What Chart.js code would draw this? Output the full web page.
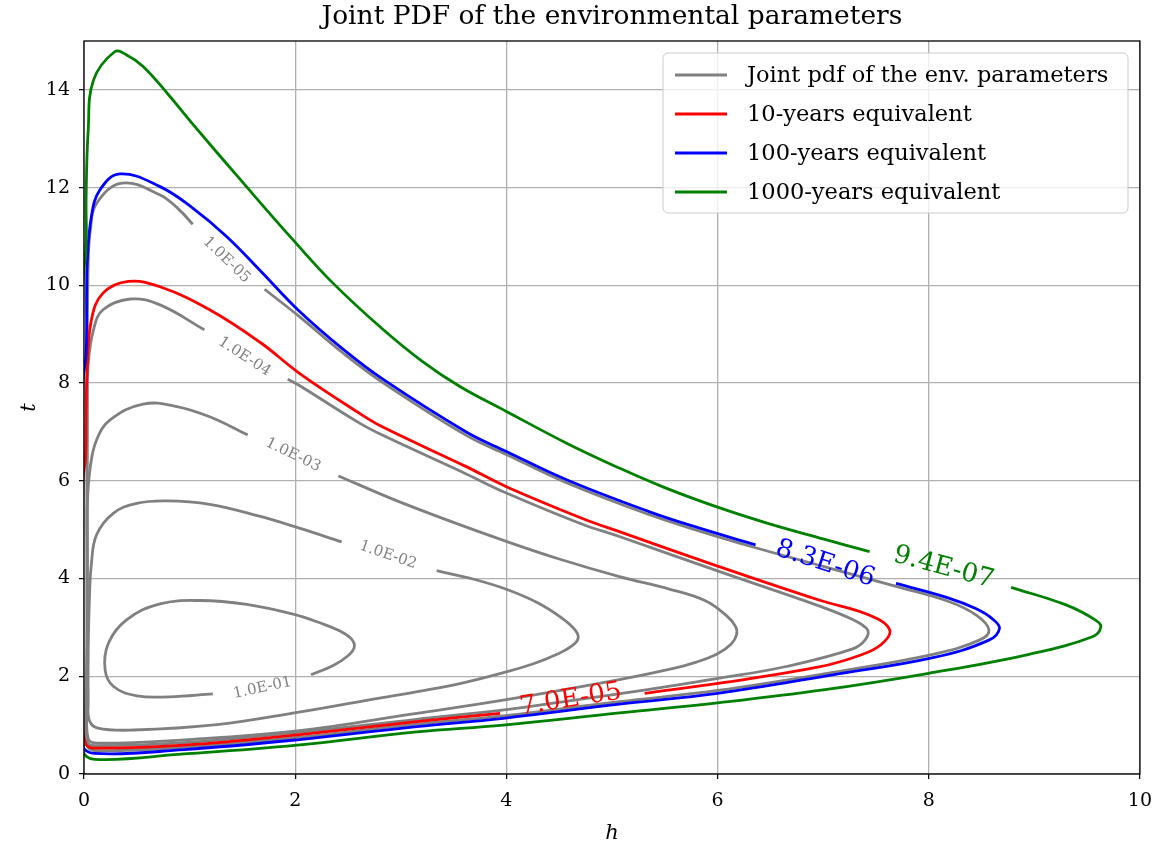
<!DOCTYPE html>
<html>
<head>
<meta charset="utf-8">
<title>Joint PDF of the environmental parameters</title>
<script src="https://cdn.jsdelivr.net/npm/chart.js@4.4.0/dist/chart.umd.min.js"></script>
<style>
  html, body { margin: 0; padding: 0; background: #fff; }
</style>
</head>
<body>
<canvas id="myChart" width="1163" height="852"></canvas>
<script>
// iso-density contours of the joint pdf, points as [h, t]
// each one runs from one end of its label gap round to the other end
const pdf1e01 = [[2.15,2.03],[2.36,2.22],[2.50,2.42],[2.56,2.60],[2.53,2.77],[2.42,2.93],[2.25,3.08],[1.98,3.27],[1.54,3.47],[1.10,3.55],[0.72,3.48],[0.40,3.15],[0.23,2.67],[0.20,2.13],[0.28,1.79],[0.50,1.60],[0.81,1.58],[1.22,1.64]];
const pdf1e02 = [[3.34,4.16],[3.70,3.98],[4.00,3.78],[4.30,3.50],[4.52,3.20],[4.65,2.95],[4.68,2.78],[4.62,2.62],[4.48,2.45],[4.25,2.25],[4.00,2.09],[3.60,1.87],[3.20,1.70],[2.84,1.57],[2.02,1.26],[1.26,1.01],[0.47,0.90],[0.13,0.94],[0.05,1.10],[0.04,1.50],[0.04,2.50],[0.05,3.50],[0.07,4.30],[0.12,4.90],[0.28,5.34],[0.50,5.54],[0.78,5.59],[1.19,5.52],[1.67,5.27],[2.04,5.03],[2.44,4.75]];
const pdf1e03 = [[2.41,6.10],[2.93,5.62],[3.46,5.18],[4.00,4.76],[4.50,4.40],[5.07,4.04],[5.55,3.78],[5.88,3.55],[6.08,3.25],[6.17,3.02],[6.18,2.85],[6.13,2.66],[6.00,2.46],[5.80,2.29],[5.54,2.14],[5.07,1.93],[4.00,1.52],[3.15,1.24],[2.02,0.88],[0.95,0.70],[0.13,0.63],[0.04,0.72],[0.03,1.50],[0.03,3.00],[0.03,4.50],[0.03,5.47],[0.06,6.29],[0.12,6.84],[0.25,7.25],[0.56,7.57],[0.88,7.52],[1.19,7.31],[1.55,6.94]];
const pdf1e04 = [[1.93,8.08],[2.04,7.95],[2.61,7.18],[2.83,6.93],[3.62,6.14],[4.00,5.75],[4.72,5.11],[5.07,4.86],[6.02,4.14],[6.96,3.44],[7.28,3.16],[7.42,2.95],[7.40,2.75],[7.28,2.56],[6.65,2.20],[6.02,1.96],[5.32,1.72],[4.61,1.50],[3.94,1.30],[3.15,1.12],[2.02,0.85],[0.95,0.64],[0.10,0.58],[0.03,0.66],[0.03,2.00],[0.03,5.00],[0.03,7.40],[0.04,8.40],[0.09,9.09],[0.18,9.50],[0.44,9.72],[0.72,9.60],[1.14,9.09]];
const pdf1e05 = [[1.71,9.92],[2.04,9.36],[2.45,8.62],[2.83,8.01],[3.62,6.93],[4.00,6.54],[4.57,5.96],[5.35,5.31],[5.83,4.97],[6.36,4.63],[7.00,4.25],[7.69,3.84],[8.19,3.53],[8.45,3.25],[8.57,2.95],[8.48,2.74],[8.04,2.45],[7.09,2.08],[6.00,1.71],[5.07,1.48],[3.97,1.19],[3.15,1.02],[2.02,0.75],[0.95,0.55],[0.10,0.48],[0.03,0.60],[0.03,3.00],[0.03,8.00],[0.04,10.50],[0.06,11.13],[0.12,11.68],[0.36,12.09],[0.72,11.85],[0.90,11.55],[1.03,11.25]];

// return-period contours
const rp10 = [[5.31,1.65],[6.02,1.86],[6.96,2.19],[7.35,2.43],[7.55,2.65],[7.63,2.95],[7.44,3.25],[6.96,3.56],[6.02,4.24],[5.07,4.96],[4.72,5.23],[4.00,5.88],[3.62,6.29],[2.83,7.10],[2.61,7.38],[2.04,8.20],[1.67,8.83],[1.19,9.50],[0.72,9.97],[0.42,10.08],[0.18,9.84],[0.07,9.29],[0.03,8.27],[0.02,7.38],[0.015,6.50],[-0.01,6.00],[-0.01,1.00],[0.02,0.60],[0.10,0.53],[0.95,0.59],[2.02,0.80],[3.15,1.07],[3.94,1.24]];
const rp100 = [[7.69,3.90],[8.19,3.60],[8.45,3.38],[8.60,3.18],[8.67,2.98],[8.57,2.74],[8.04,2.38],[7.09,2.03],[6.00,1.65],[5.07,1.43],[3.97,1.14],[3.15,0.97],[2.02,0.70],[0.95,0.50],[0.10,0.42],[-0.01,0.60],[-0.01,8.00],[0.02,8.60],[0.025,9.90],[0.03,10.45],[0.07,11.41],[0.15,11.95],[0.34,12.28],[0.72,12.02],[1.03,11.58],[1.35,11.00],[1.67,10.30],[2.04,9.47],[2.45,8.70],[2.83,8.08],[3.62,7.00],[4.00,6.60],[4.57,6.02],[5.35,5.37],[5.83,5.03],[6.36,4.69]];
const rp1000 = [[8.78,3.82],[9.30,3.46],[9.58,3.15],[9.63,3.01],[9.55,2.81],[8.95,2.45],[8.00,2.06],[7.00,1.72],[6.02,1.46],[5.07,1.25],[3.97,1.00],[3.15,0.86],[2.02,0.59],[0.95,0.41],[0.10,0.30],[-0.01,0.50],[-0.01,10.00],[0.02,10.80],[0.02,11.80],[0.04,13.18],[0.09,14.20],[0.29,14.78],[0.40,14.72],[0.56,14.48],[0.80,13.90],[1.03,13.30],[1.51,12.09],[1.98,10.93],[2.36,10.04],[2.83,9.10],[3.20,8.45],[3.56,7.93],[4.00,7.42],[4.57,6.77],[5.07,6.26],[5.50,5.86],[6.00,5.46],[6.46,5.14],[7.00,4.81],[7.44,4.55]];

// inline contour labels
const labelText = ['1.0E-01', '1.0E-02', '1.0E-03', '1.0E-04', '1.0E-05', '7.0E-05', '8.3E-06', '9.4E-07'];
const labelH = [1.69, 2.88, 1.98, 1.52, 1.35, 4.61, 7.02, 8.14];
const labelT = [1.76, 4.48, 6.53, 8.54, 10.52, 1.52, 4.30, 4.22];
const labelRot = [-12, 19, 26, 33, 44, -9, 18, 15];

const legendLabels = ['Joint pdf of the env. parameters', '10-years equivalent', '100-years equivalent', '1000-years equivalent'];
const legendColors = ['#808080', '#ff0000', '#0000ff', '#008000'];

const xTicks = [0, 2, 4, 6, 8, 10];
const yTicks = [0, 2, 4, 6, 8, 10, 12, 14];

const SERIF = '"DejaVu Serif", "Liberation Serif", serif';
const labelColor = ['#808080', '#808080', '#808080', '#808080', '#808080', '#ff0000', '#0000ff', '#008000'];
const labelSize = [15, 15, 15, 15, 15, 26, 26, 26];

function contour(pts, color) {
    return {
        data: pts.map(p => ({ x: p[0], y: p[1] })),
        showLine: true,
        borderColor: color,
        borderWidth: 2.8,
        pointRadius: 0,
        pointHoverRadius: 0,
        tension: 0.4,
        fill: false
    };
}

// labels, frame, title, axis names and legend drawn by hand
const decorations = {
    id: 'decorations',
    afterDatasetsDraw(chart) {
        const { ctx, chartArea: a, scales: { x, y } } = chart;

        labelText.forEach((txt, i) => {
            ctx.save();
            ctx.translate(x.getPixelForValue(labelH[i]), y.getPixelForValue(labelT[i]));
            ctx.rotate(labelRot[i] * Math.PI / 180);
            ctx.font = labelSize[i] + 'px ' + SERIF;
            ctx.fillStyle = labelColor[i];
            ctx.textAlign = 'center';
            ctx.textBaseline = 'middle';
            ctx.fillText(txt, 0, 0);
            ctx.restore();
        });

        ctx.save();
        ctx.strokeStyle = '#000';
        ctx.lineWidth = 1.3;
        ctx.strokeRect(a.left, a.top, a.right - a.left, a.bottom - a.top);
        ctx.restore();

        // legend box
        ctx.save();
        const bx = 663, by = 53, bw = 465, bh = 160, r = 5;
        ctx.beginPath();
        ctx.moveTo(bx + r, by);
        ctx.arcTo(bx + bw, by, bx + bw, by + bh, r);
        ctx.arcTo(bx + bw, by + bh, bx, by + bh, r);
        ctx.arcTo(bx, by + bh, bx, by, r);
        ctx.arcTo(bx, by, bx + bw, by, r);
        ctx.closePath();
        ctx.fillStyle = 'rgba(255,255,255,0.8)';
        ctx.fill();
        ctx.strokeStyle = '#cccccc';
        ctx.lineWidth = 1;
        ctx.stroke();
        ctx.font = '22.5px ' + SERIF;
        ctx.textBaseline = 'middle';
        ctx.fillStyle = '#000';
        legendLabels.forEach((txt, i) => {
            const ly = 75 + i * 39;
            ctx.beginPath();
            ctx.moveTo(675, ly);
            ctx.lineTo(727, ly);
            ctx.strokeStyle = legendColors[i];
            ctx.lineWidth = 2.8;
            ctx.stroke();
            ctx.fillText(txt, 747, ly + 1);
        });
        ctx.restore();

        ctx.save();
        ctx.fillStyle = '#000';
        ctx.textAlign = 'center';
        ctx.textBaseline = 'middle';
        ctx.font = '26.5px ' + SERIF;
        ctx.fillText('Joint PDF of the environmental parameters', (a.left + a.right) / 2, 17);
        ctx.font = 'italic 21px ' + SERIF;
        ctx.fillText('h', (a.left + a.right) / 2, 834);
        ctx.translate(30, (a.top + a.bottom) / 2);
        ctx.rotate(-Math.PI / 2);
        ctx.fillText('t', 0, 0);
        ctx.restore();
    }
};

const datasets = [
    contour(rp1000, '#008000'),
    contour(rp100, '#0000ff'),
    contour(rp10, '#ff0000'),
    contour(pdf1e05, '#808080'),
    contour(pdf1e04, '#808080'),
    contour(pdf1e03, '#808080'),
    contour(pdf1e02, '#808080'),
    contour(pdf1e01, '#808080')
];

const gridStyle = { color: '#b0b0b0', lineWidth: 1.3, tickColor: '#000', tickLength: 5, tickWidth: 1.2 };

let myChart = new Chart(document.getElementById('myChart').getContext('2d'), {
    type: 'scatter',
    data: { datasets: datasets },
    options: {
        responsive: false,
        animation: false,
        events: [],
        layout: { padding: { top: 41, right: 22, left: 0, bottom: 0 } },
        plugins: { legend: { display: false }, tooltip: { enabled: false }, title: { display: false } },
        scales: {
            x: {
                type: 'linear', min: 0, max: 10,
                afterFit: s => { s.height = 78; },
                afterBuildTicks: s => { s.ticks = xTicks.map(v => ({ value: v })); },
                grid: gridStyle,
                border: { display: false },
                ticks: { color: '#000', font: { family: SERIF, size: 19 }, padding: 11, maxRotation: 0 }
            },
            y: {
                type: 'linear', min: 0, max: 15,
                afterFit: s => { s.width = 84; },
                afterBuildTicks: s => { s.ticks = yTicks.map(v => ({ value: v })); },
                grid: gridStyle,
                border: { display: false },
                ticks: { color: '#000', font: { family: SERIF, size: 19 }, padding: 9 }
            }
        }
    },
    plugins: [decorations]
});
</script>
</body>
</html>
